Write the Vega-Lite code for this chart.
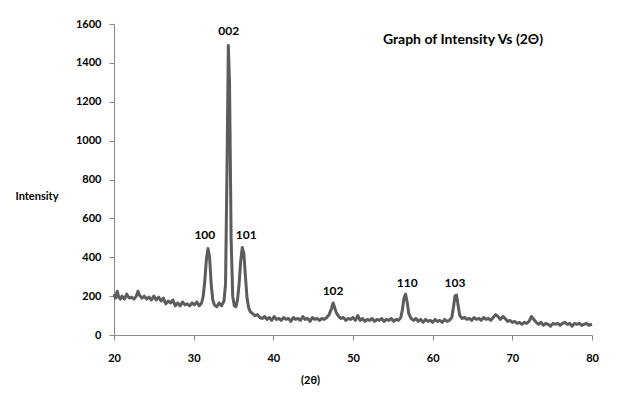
{
  "$schema": "https://vega.github.io/schema/vega-lite/v6.json",
  "width": 478,
  "height": 311,
  "autosize": {"type": "none"},
  "padding": {"left": 114, "top": 24, "right": 30, "bottom": 63},
  "background": "white",
  "config": {
    "view": {"stroke": null},
    "font": "Lato",
    "axis": {"labelFont": "Lato", "labelFontWeight": "bold", "labelFontSize": 11, "labelColor": "#000000", "titleFont": "Lato", "titleFontWeight": "bold", "titleFontSize": 11, "titleColor": "#000000", "domainColor": "#888888", "tickColor": "#888888", "grid": false, "labelOverlap": false}
  },
  "datasets": {
    "xrd": [
      {"t":20.0,"i":210},{"t":20.2,"i":190},{"t":20.4,"i":225},{"t":20.6,"i":195},{"t":20.8,"i":185},{"t":21.0,"i":200},{"t":21.3,"i":185},{"t":21.6,"i":210},{"t":21.9,"i":190},{"t":22.2,"i":195},{"t":22.5,"i":185},{"t":22.8,"i":200},{"t":23.0,"i":225},{"t":23.2,"i":205},{"t":23.5,"i":190},{"t":23.8,"i":200},{"t":24.1,"i":185},{"t":24.4,"i":195},{"t":24.7,"i":180},{"t":25.0,"i":200},{"t":25.3,"i":180},{"t":25.6,"i":195},{"t":25.9,"i":175},{"t":26.2,"i":190},{"t":26.5,"i":160},{"t":26.8,"i":175},{"t":27.1,"i":165},{"t":27.4,"i":180},{"t":27.7,"i":150},{"t":28.0,"i":165},{"t":28.3,"i":150},{"t":28.6,"i":170},{"t":28.9,"i":155},{"t":29.2,"i":160},{"t":29.5,"i":150},{"t":29.8,"i":165},{"t":30.1,"i":155},{"t":30.4,"i":170},{"t":30.7,"i":150},{"t":31.0,"i":165},{"t":31.2,"i":200},{"t":31.4,"i":280},{"t":31.6,"i":390},{"t":31.8,"i":445},{"t":32.0,"i":400},{"t":32.2,"i":260},{"t":32.4,"i":180},{"t":32.6,"i":155},{"t":32.9,"i":145},{"t":33.2,"i":165},{"t":33.5,"i":150},{"t":33.8,"i":175},{"t":34.0,"i":260},{"t":34.2,"i":900},{"t":34.35,"i":1490},{"t":34.5,"i":1300},{"t":34.7,"i":500},{"t":34.9,"i":200},{"t":35.1,"i":150},{"t":35.3,"i":145},{"t":35.5,"i":180},{"t":35.7,"i":260},{"t":35.9,"i":380},{"t":36.1,"i":450},{"t":36.3,"i":420},{"t":36.5,"i":300},{"t":36.7,"i":190},{"t":36.9,"i":140},{"t":37.1,"i":120},{"t":37.4,"i":110},{"t":37.7,"i":100},{"t":38.0,"i":105},{"t":38.3,"i":90},{"t":38.6,"i":85},{"t":38.9,"i":95},{"t":39.2,"i":80},{"t":39.5,"i":90},{"t":39.8,"i":75},{"t":40.1,"i":95},{"t":40.4,"i":80},{"t":40.7,"i":85},{"t":41.0,"i":75},{"t":41.3,"i":90},{"t":41.6,"i":80},{"t":41.9,"i":85},{"t":42.2,"i":70},{"t":42.5,"i":90},{"t":42.8,"i":80},{"t":43.1,"i":85},{"t":43.4,"i":75},{"t":43.7,"i":95},{"t":44.0,"i":80},{"t":44.3,"i":85},{"t":44.6,"i":70},{"t":44.9,"i":90},{"t":45.2,"i":80},{"t":45.5,"i":85},{"t":45.8,"i":75},{"t":46.1,"i":85},{"t":46.4,"i":80},{"t":46.7,"i":90},{"t":47.0,"i":105},{"t":47.3,"i":135},{"t":47.5,"i":165},{"t":47.7,"i":140},{"t":47.9,"i":115},{"t":48.2,"i":95},{"t":48.5,"i":85},{"t":48.8,"i":90},{"t":49.1,"i":75},{"t":49.4,"i":85},{"t":49.7,"i":80},{"t":50.0,"i":90},{"t":50.3,"i":75},{"t":50.6,"i":100},{"t":50.9,"i":75},{"t":51.2,"i":85},{"t":51.5,"i":70},{"t":51.8,"i":80},{"t":52.1,"i":75},{"t":52.4,"i":85},{"t":52.7,"i":70},{"t":53.0,"i":80},{"t":53.3,"i":75},{"t":53.6,"i":85},{"t":53.9,"i":70},{"t":54.2,"i":80},{"t":54.5,"i":75},{"t":54.8,"i":85},{"t":55.1,"i":70},{"t":55.4,"i":80},{"t":55.7,"i":75},{"t":56.0,"i":90},{"t":56.2,"i":130},{"t":56.4,"i":190},{"t":56.6,"i":210},{"t":56.8,"i":170},{"t":57.0,"i":110},{"t":57.3,"i":85},{"t":57.6,"i":75},{"t":57.9,"i":85},{"t":58.2,"i":70},{"t":58.5,"i":80},{"t":58.8,"i":65},{"t":59.1,"i":80},{"t":59.4,"i":70},{"t":59.7,"i":75},{"t":60.0,"i":65},{"t":60.3,"i":80},{"t":60.6,"i":70},{"t":60.9,"i":75},{"t":61.2,"i":65},{"t":61.5,"i":80},{"t":61.8,"i":70},{"t":62.1,"i":75},{"t":62.4,"i":90},{"t":62.6,"i":140},{"t":62.8,"i":200},{"t":63.0,"i":205},{"t":63.2,"i":150},{"t":63.4,"i":100},{"t":63.7,"i":85},{"t":64.0,"i":90},{"t":64.3,"i":80},{"t":64.6,"i":85},{"t":64.9,"i":75},{"t":65.2,"i":90},{"t":65.5,"i":80},{"t":65.8,"i":85},{"t":66.1,"i":75},{"t":66.4,"i":90},{"t":66.7,"i":80},{"t":67.0,"i":85},{"t":67.3,"i":75},{"t":67.6,"i":90},{"t":67.9,"i":105},{"t":68.2,"i":95},{"t":68.5,"i":80},{"t":68.8,"i":95},{"t":69.1,"i":85},{"t":69.4,"i":70},{"t":69.7,"i":75},{"t":70.0,"i":65},{"t":70.3,"i":70},{"t":70.6,"i":60},{"t":70.9,"i":65},{"t":71.2,"i":55},{"t":71.5,"i":65},{"t":71.8,"i":60},{"t":72.1,"i":70},{"t":72.4,"i":95},{"t":72.7,"i":80},{"t":73.0,"i":65},{"t":73.3,"i":55},{"t":73.6,"i":65},{"t":73.9,"i":50},{"t":74.2,"i":60},{"t":74.5,"i":55},{"t":74.8,"i":45},{"t":75.1,"i":60},{"t":75.4,"i":55},{"t":75.7,"i":60},{"t":76.0,"i":50},{"t":76.3,"i":60},{"t":76.6,"i":65},{"t":76.9,"i":55},{"t":77.2,"i":60},{"t":77.5,"i":45},{"t":77.8,"i":60},{"t":78.1,"i":55},{"t":78.4,"i":60},{"t":78.7,"i":50},{"t":79.0,"i":55},{"t":79.3,"i":60},{"t":79.6,"i":50},{"t":80.0,"i":55}
    ],
    "labels": [
      {"t":31.4,"i":514,"label":"100"},
      {"t":34.4,"i":1563,"label":"002"},
      {"t":36.6,"i":514,"label":"101"},
      {"t":47.5,"i":226,"label":"102"},
      {"t":56.8,"i":267,"label":"110"},
      {"t":62.8,"i":267,"label":"103"}
    ],
    "title": [{"t":63.8,"i":1517,"label":"Graph of Intensity Vs (2Θ)"}]
  },
  "encoding": {
    "x": {"field": "t", "type": "quantitative", "scale": {"domain": [20, 80], "nice": false},
      "axis": {"values": [20,30,40,50,60,70,80], "format": "d", "title": "(2θ)", "titleX": 196, "titleY": 45, "titleAnchor": null, "titleAlign": "center", "titleBaseline": "middle", "tickSize": 5, "labelPadding": 12, "labelFlush": false}},
    "y": {"field": "i", "type": "quantitative", "scale": {"domain": [0, 1600], "nice": false},
      "axis": {"values": [0,200,400,600,800,1000,1200,1400,1600], "format": "d", "labelOverlap": false, "labelBound": false, "title": "Intensity", "titleAngle": 0, "titleAlign": "left", "titleBaseline": "middle", "titleX": -99, "titleY": 172, "tickSize": 5, "labelPadding": 8}}
  },
  "layer": [
    {
      "data": {"name": "xrd"},
      "mark": {"type": "line", "color": "#5c5c5c", "strokeWidth": 3, "strokeJoin": "round"}
    },
    {
      "data": {"name": "labels"},
      "mark": {"type": "text", "font": "Lato", "fontWeight": "bold", "fontSize": 12, "color": "#000000", "baseline": "middle", "align": "center"},
      "encoding": {"text": {"field": "label"}}
    },
    {
      "data": {"name": "title"},
      "mark": {"type": "text", "font": "Lato", "fontWeight": "bold", "fontSize": 14, "color": "#000000", "baseline": "middle", "align": "center"},
      "encoding": {"text": {"field": "label"}}
    }
  ]
}
